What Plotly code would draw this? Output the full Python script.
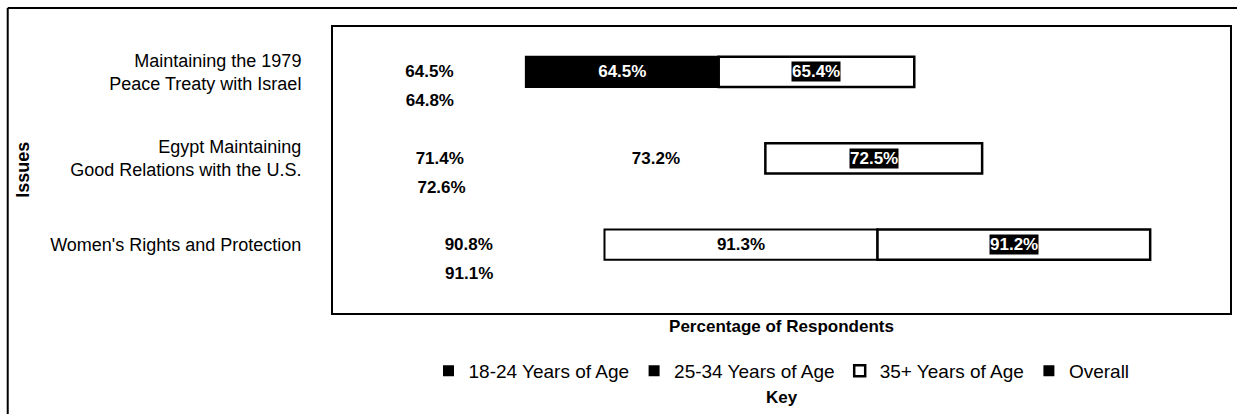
import plotly.graph_objects as go

categories = ["Maintaining the 1979<br>Peace Treaty with Israel",
              "Egypt Maintaining<br>Good Relations with the U.S.",
              "Women's Rights and Protection"]
age_18_24 = [64.5, 71.4, 90.8]
age_25_34 = [64.5, 73.2, 91.3]
age_35_plus = [65.4, 72.5, 91.2]
overall = [64.8, 72.6, 91.1]
series_names = ["18-24 Years of Age", "25-34 Years of Age", "35+ Years of Age", "Overall"]

FONT = "Liberation Sans, Arial"
LABEL_FONT = dict(family=FONT, size=17, color="black", weight="bold")

base_25 = age_18_24[:]
base_35 = [a + b for a, b in zip(age_18_24, age_25_34)]

fig = go.Figure()
W, OFF = 0.35, -0.175

fig.add_trace(go.Bar(y=categories, x=age_18_24, orientation="h", width=W, offset=OFF,
                     marker=dict(color="rgba(0,0,0,0)", line=dict(width=0)),
                     texttemplate="%{x:.1f}%", textposition="inside", insidetextanchor="middle",
                     textangle=0, constraintext="none", textfont=LABEL_FONT,
                     showlegend=False, name=series_names[0]))
fig.add_trace(go.Bar(y=categories, x=age_25_34, base=base_25, orientation="h", width=W, offset=OFF,
                     marker=dict(color=["black", "rgba(0,0,0,0)", "white"],
                                 line=dict(color=["black", "rgba(0,0,0,0)", "black"], width=2)),
                     texttemplate="%{x:.1f}%", textposition="inside", insidetextanchor="middle",
                     textangle=0, constraintext="none",
                     textfont=dict(family=FONT, size=17, color=["white", "black", "black"], weight="bold"),
                     showlegend=False, name=series_names[1]))
fig.add_trace(go.Bar(y=categories, x=age_35_plus, base=base_35, orientation="h", width=W, offset=OFF,
                     marker=dict(color="white", line=dict(color="black", width=2.5)),
                     showlegend=False, name=series_names[2]))
fig.add_trace(go.Bar(y=categories, x=overall, orientation="h", width=W, offset=0.16,
                     marker=dict(color="rgba(0,0,0,0)", line=dict(width=0)),
                     texttemplate="%{x:.1f}%", textposition="inside", insidetextanchor="middle",
                     textangle=0, constraintext="none", textfont=LABEL_FONT,
                     showlegend=False, name=series_names[3]))

# legend entries
legend_symbols = ["square", "square", "square-open", "square"]
for name, sym in zip(series_names, legend_symbols):
    fig.add_trace(go.Scatter(x=[None], y=[None], mode="markers", name=name,
                             marker=dict(symbol=sym, size=11, color="black",
                                         line=dict(color="black", width=2.5 if sym == "square-open" else 0))))

# 35+ labels (white on black box) at the middle of each 35+ segment
for cat, b, v in zip(categories, base_35, age_35_plus):
    fig.add_annotation(x=b + v / 2, y=cat, text=f"<b>{v:.1f}%</b>", showarrow=False,
                       font=dict(family=FONT, size=17, color="white"), bgcolor="black",
                       borderpad=0)

fig.add_annotation(text="<b>Issues</b>", textangle=-90, xref="paper", yref="paper",
                   x=(22 - 333) / 899, y=0.5, xanchor="center", yanchor="middle", showarrow=False,
                   font=dict(family=FONT, size=18, color="black"))
fig.add_annotation(text="<b>Key</b>", xref="paper", yref="paper",
                   x=0.5, y=(313 - 398) / 286, xanchor="center", yanchor="middle", showarrow=False,
                   font=dict(family=FONT, size=17, color="black"))

# outer frame (top and left edges visible)
fig.add_shape(type="line", xref="paper", yref="paper", x0=(7 - 333) / 899, x1=1.01,
              y0=(313 - 8) / 286, y1=(313 - 8) / 286, line=dict(color="black", width=2))
fig.add_shape(type="line", xref="paper", yref="paper", x0=(7 - 333) / 899, x1=(7 - 333) / 899,
              y0=-0.4, y1=(313 - 8) / 286, line=dict(color="black", width=2))

fig.update_layout(
    width=1237, height=414,
    margin=dict(l=333, r=5, t=27, b=101),
    paper_bgcolor="white", plot_bgcolor="white",
    barmode="overlay",
    font=dict(family=FONT, size=17, color="black"),
    showlegend=True,
    legend=dict(orientation="h", x=0.5, xanchor="center", y=(313 - 371) / 286, yanchor="middle",
                font=dict(family=FONT, size=19, color="black"), itemwidth=30,
                tracegroupgap=0),
    xaxis=dict(range=[0, 300], showticklabels=False, ticks="", showgrid=False, zeroline=False,
               showline=True, linecolor="black", linewidth=2, mirror=True,
               title=dict(text="<b>Percentage of Respondents</b>", standoff=6,
                          font=dict(family=FONT, size=17, color="black"))),
    yaxis=dict(type="category", range=[2.79, -0.52], showgrid=False, zeroline=False, ticks="",
               showline=True, linecolor="black", linewidth=2, mirror=True,
               ticklabelstandoff=26, tickfont=dict(family=FONT, size=18, color="black")),
)

fig.write_html("out.html", config={"displayModeBar": False},
               post_script="document.body.style.margin='0';document.body.style.overflow='hidden';")
